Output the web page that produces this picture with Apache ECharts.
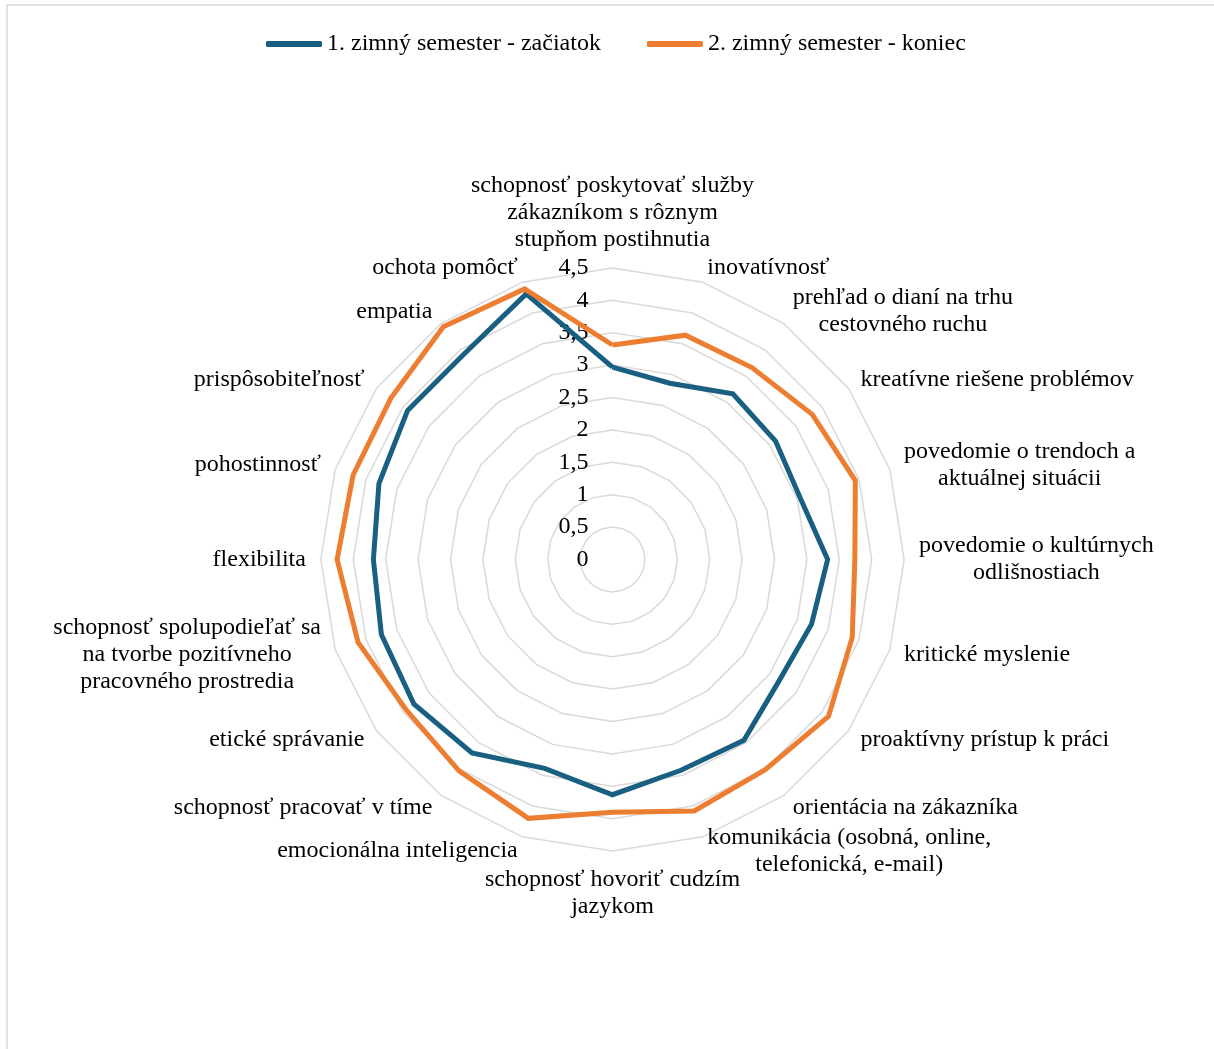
<!DOCTYPE html>
<html>
<head>
<meta charset="utf-8">
<script src="https://cdn.jsdelivr.net/npm/echarts@6/dist/echarts.min.js"></script>
<style>
html,body{margin:0;padding:0;background:#fff;}
#chart{width:1214px;height:1049px;}
</style>
</head>
<body>
<div id="chart"></div>
<script>
// ---- data (clockwise order, starting at the top) ----
const categories = [
  "schopnosť poskytovať služby\nzákazníkom s rôznym\nstupňom postihnutia",
  "inovatívnosť",
  "prehľad o dianí na trhu\ncestovného ruchu",
  "kreatívne riešene problémov",
  "povedomie o trendoch a\naktuálnej situácii",
  "povedomie o kultúrnych\nodlišnostiach",
  "kritické myslenie",
  "proaktívny prístup k práci",
  "orientácia na zákazníka",
  "komunikácia (osobná, online,\ntelefonická, e-mail)",
  "schopnosť hovoriť cudzím\njazykom",
  "emocionálna inteligencia",
  "schopnosť pracovať v tíme",
  "etické správanie",
  "schopnosť spolupodieľať sa\nna tvorbe pozitívneho\npracovného prostredia",
  "flexibilita",
  "pohostinnosť",
  "prispôsobiteľnosť",
  "empatia",
  "ochota pomôcť"
];
const seriesNames = ["1. zimný semester - začiatok", "2. zimný semester - koniec"];
const startValues = [2.97, 2.86, 3.16, 3.11, 3.05, 3.32, 3.23, 3.18, 3.45, 3.42,
                     3.63, 3.39, 3.69, 3.79, 3.75, 3.69, 3.79, 3.91, 3.91, 4.31];
const endValues   = [3.31, 3.64, 3.66, 3.81, 3.94, 3.74, 3.89, 4.12, 4.01, 4.08,
                     3.90, 4.20, 4.03, 3.94, 4.13, 4.25, 4.21, 4.23, 4.44, 4.39];
const axisMin = 0;
const axisMax = 4.5;
const axisStep = 0.5;

// ECharts radar lays indicators out counter-clockwise: keep the first, reverse the rest
const toCCW = arr => [arr[0]].concat(arr.slice(1).reverse());

// ---- chart ----
const FONT = 'Liberation Serif';
const COLORS = ['#185F82', '#ED7D31'];

const indicators = toCCW(categories).map((name, i) => {
  const ind = { name: name, min: axisMin, max: axisMax };
  if (i === 0) {
    ind.axisLabel = {
      show: true,
      color: '#000',
      fontFamily: FONT,
      fontSize: 24,
      margin: 24,
      showMinLabel: true,
      showMaxLabel: true,
      formatter: v => String(Math.round(v * 10) / 10).replace('.', ',')
    };
  }
  return ind;
});

const chart = echarts.init(document.getElementById('chart'), null, { renderer: 'canvas' });
chart.setOption({
  backgroundColor: '#fff',
  animation: false,
  color: COLORS,
  textStyle: { fontFamily: FONT },
  graphic: [{
    type: 'rect',
    shape: { x: 7, y: 5, width: 1230, height: 1070 },
    style: { fill: 'none', stroke: '#d9d9d9', lineWidth: 1.5 },
    silent: true
  }],
  legend: {
    left: 261,
    top: 27,
    itemWidth: 56,
    itemHeight: 6,
    itemGap: 46,
    icon: 'roundRect',
    formatter: name => '{t|' + name + '}',
    textStyle: {
      fontFamily: FONT, fontSize: 24, color: '#000',
      rich: { t: { fontFamily: FONT, fontSize: 24, color: '#000' } }
    },
    data: seriesNames
  },
  radar: {
    center: [612.5, 559.5],
    radius: 291.6,
    startAngle: 90,
    splitNumber: Math.round((axisMax - axisMin) / axisStep),
    shape: 'polygon',
    nameGap: 15,
    axisName: {
      color: '#000',
      fontFamily: FONT,
      fontSize: 24,
      formatter: name => name.split('\n').map(l => '{c|' + l + '}').join('\n'),
      rich: {
        c: { align: 'center', fontFamily: FONT, fontSize: 24, color: '#000', lineHeight: 27 }
      }
    },
    axisLine: { show: false },
    axisTick: { show: false },
    axisLabel: { show: false },
    splitArea: { show: false },
    splitLine: { lineStyle: { color: '#d9d9d9', width: 1.5 } },
    indicator: indicators
  },
  series: [{
    type: 'radar',
    symbol: 'none',
    data: [
      { name: seriesNames[0], value: toCCW(startValues),
        lineStyle: { width: 5, color: COLORS[0], join: 'miter' }, itemStyle: { color: COLORS[0] } },
      { name: seriesNames[1], value: toCCW(endValues),
        lineStyle: { width: 5, color: COLORS[1], join: 'miter' }, itemStyle: { color: COLORS[1] } }
    ]
  }]
});
</script>
</body>
</html>
